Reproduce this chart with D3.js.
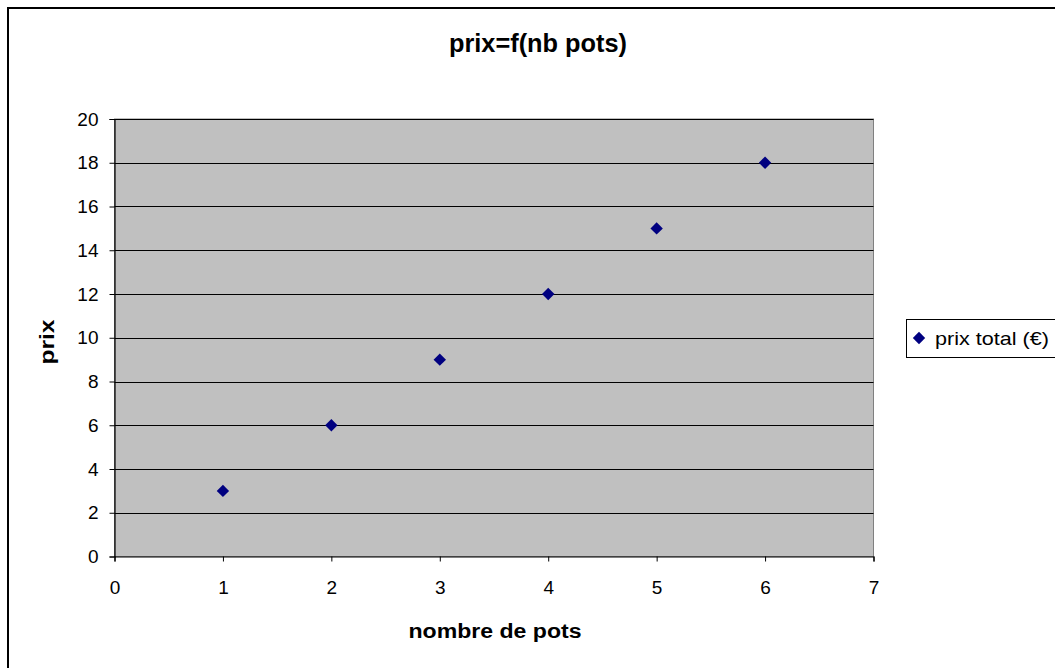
<!DOCTYPE html>
<html>
<head>
<meta charset="utf-8">
<script src="https://cdn.jsdelivr.net/npm/d3@7"></script>
<style>
body { margin: 0; background: #fff; }
text { font-family: "Liberation Sans", Arial, sans-serif; }
</style>
</head>
<body>
<script>
var w = 1055;
var h = 668;

// data
var nbPots = [1, 2, 3, 4, 5, 6];
var prixTotal = [3, 6, 9, 12, 15, 18];
var xTicks = [0, 1, 2, 3, 4, 5, 6, 7];
var yTicks = [0, 2, 4, 6, 8, 10, 12, 14, 16, 18, 20];
var seriesName = "prix total (€)";

var pLeft = 114.5, pRight = 873.5, pTop = 119, pBottom = 556.5;

var svg = d3.select("body").append("svg").attr("width", w).attr("height", h);

// outer frame
svg.append("rect")
  .attr("x", 8).attr("y", 8)
  .attr("width", w + 10).attr("height", h + 10)
  .attr("fill", "#fff").attr("stroke", "#000").attr("stroke-width", 2);

var x = d3.scaleLinear().domain([0, 7]).range([pLeft, pRight]);
var y = d3.scaleLinear().domain([0, 20]).range([pBottom, pTop]);

// plot area
svg.append("rect")
  .attr("x", pLeft).attr("y", pTop)
  .attr("width", pRight - pLeft).attr("height", pBottom - pTop)
  .attr("fill", "#c0c0c0").attr("stroke", "#808080").attr("stroke-width", 1);

// gridlines
svg.selectAll("line.grid")
  .data(yTicks.slice(1))
  .enter()
  .append("line")
  .attr("class", "grid")
  .attr("x1", pLeft).attr("x2", pRight)
  .attr("y1", function(d){ return Math.round(y(d)) + 0.5; })
  .attr("y2", function(d){ return Math.round(y(d)) + 0.5; })
  .attr("stroke", "#000").attr("stroke-width", 1);

// axes
var xAxis = svg.append("g")
  .attr("transform", "translate(0," + pBottom + ")")
  .call(d3.axisBottom(x).tickValues(xTicks).tickSize(5).tickPadding(19).tickFormat(d3.format("d")));
var yAxis = svg.append("g")
  .attr("transform", "translate(" + pLeft + ",0)")
  .call(d3.axisLeft(y).tickValues(yTicks).tickSize(5).tickPadding(11).tickFormat(d3.format("d")));

[xAxis, yAxis].forEach(function(g){
  g.select(".domain").attr("stroke", "#000").attr("stroke-width", 1.2);
  g.selectAll(".tick line").attr("stroke", "#000");
  g.selectAll(".tick text").attr("font-size", 19).attr("fill", "#000")
    .style("font-family", "'Liberation Sans', Arial, sans-serif");
});

// points
var diamond = d3.symbol().type(d3.symbolDiamond2).size(98);
svg.selectAll("path.pt")
  .data(nbPots)
  .enter()
  .append("path")
  .attr("class", "pt")
  .attr("d", diamond)
  .attr("transform", function(d, i){ return "translate(" + x(d) + "," + y(prixTotal[i]) + ")"; })
  .attr("fill", "#000080");

// title
svg.append("text")
  .attr("x", 538).attr("y", 52)
  .attr("text-anchor", "middle")
  .attr("font-size", 25).attr("font-weight", "bold")
  .attr("textLength", 178).attr("lengthAdjust", "spacingAndGlyphs")
  .text("prix=f(nb pots)");

svg.append("text")
  .attr("x", 495).attr("y", 638)
  .attr("text-anchor", "middle")
  .attr("font-size", 20).attr("font-weight", "bold")
  .attr("textLength", 173).attr("lengthAdjust", "spacingAndGlyphs")
  .text("nombre de pots");

svg.append("text")
  .attr("transform", "translate(54,342) rotate(-90)")
  .attr("text-anchor", "middle")
  .attr("font-size", 20).attr("font-weight", "bold")
  .attr("textLength", 45).attr("lengthAdjust", "spacingAndGlyphs")
  .text("prix");

// legend
var lg = svg.append("g");
lg.append("rect")
  .attr("x", 906.5).attr("y", 319.5)
  .attr("width", 160).attr("height", 38)
  .attr("fill", "#fff").attr("stroke", "#000").attr("stroke-width", 1);
lg.append("path")
  .attr("d", diamond)
  .attr("transform", "translate(919,338)")
  .attr("fill", "#000080");
lg.append("text")
  .attr("x", 935).attr("y", 345)
  .attr("font-size", 19)
  .attr("textLength", 114).attr("lengthAdjust", "spacingAndGlyphs")
  .text(seriesName);
</script>
</body>
</html>
